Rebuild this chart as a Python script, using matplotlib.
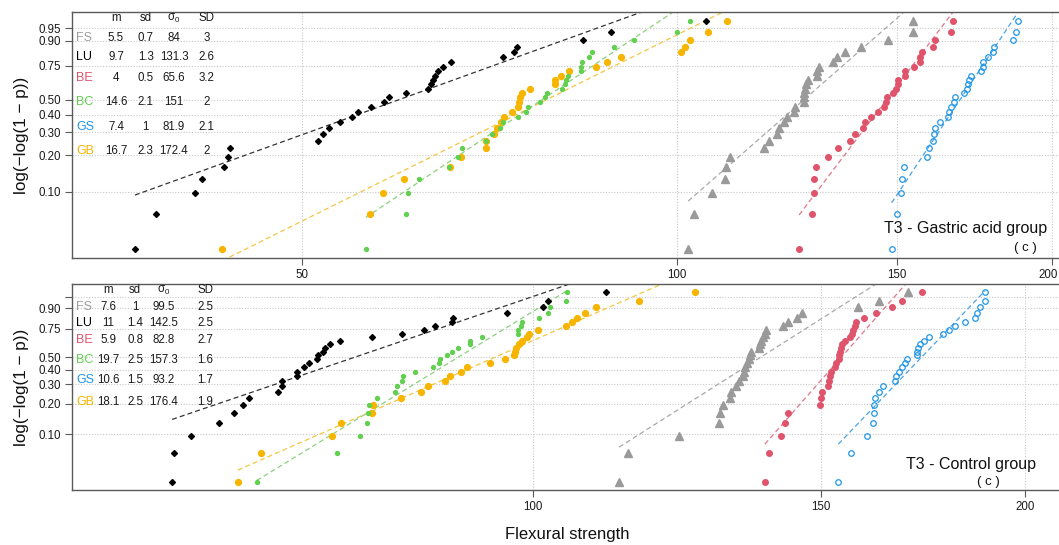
import numpy as np
import matplotlib
matplotlib.use("Agg")
import matplotlib.pyplot as plt
import matplotlib.transforms as mtransforms
from matplotlib.ticker import NullLocator

plt.rcParams['font.family'] = ['Liberation Sans', 'DejaVu Sans']
plt.rcParams['mathtext.fontset'] = 'custom'
plt.rcParams['mathtext.rm'] = 'Liberation Sans'
plt.rcParams['mathtext.it'] = 'Liberation Sans'

W, H = 1059, 545  # figure size in px

###### Data #####
groups = ["FS", "LU", "BE", "BC", "GS", "GB"]
group_colors = ["#9E9E9E", "#000000", "#DF536B", "#61D04F", "#2297E6", "#F7B500"]
headers = ["m", "sd", r"$\sigma_0$", "SD"]

# Weibull parameters printed in each panel
gastric_m = [5.5, 9.7, 4, 14.6, 7.4, 16.7]
gastric_sd = [0.7, 1.3, 0.5, 2.1, 1, 2.3]
gastric_sigma0 = [84, 131.3, 65.6, 151, 81.9, 172.4]
gastric_SD = [3, 2.6, 3.2, 2, 2.1, 2]

control_m = [7.6, 11, 5.9, 19.7, 10.6, 18.1]
control_sd = [1, 1.4, 0.8, 2.5, 1.5, 2.5]
control_sigma0 = [99.5, 142.5, 82.8, 157.3, 93.2, 176.4]
control_SD = [2.5, 2.5, 2.7, 1.6, 1.7, 1.9]

# flexural strength of the 30 specimens per series
gastric_gray = [102.09, 103.25, 106.61, 109.32, 109.40, 110.27, 117.42, 118.50, 120.28, 120.79,
                121.90, 122.57, 124.18, 124.35, 126.35, 126.42, 126.49, 126.58, 126.88, 127.42,
                129.43, 129.50, 130.05, 133.46, 134.30, 136.29, 140.46, 147.70, 154.53, 154.70]
gastric_black = [36.75, 38.21, 41.06, 41.59, 43.32, 43.66, 43.80, 51.56, 52.04, 52.61,
                 53.67, 54.84, 55.51, 56.83, 58.21, 58.78, 60.58, 63.16, 63.45, 63.69,
                 63.96, 64.32, 64.94, 65.84, 72.55, 74.05, 74.38, 84.10, 88.47, 105.43]
gastric_red = [125.31, 128.23, 128.83, 128.90, 129.38, 132.19, 134.67, 137.75, 139.04, 141.10,
               141.62, 143.02, 145.07, 146.60, 147.08, 147.34, 149.09, 149.84, 150.31, 150.45,
               152.34, 152.40, 154.90, 156.54, 156.60, 157.26, 160.49, 161.09, 165.84, 166.37]
gastric_orange = [43.18, 56.72, 58.13, 60.42, 65.70, 67.14, 70.23, 70.31, 71.28, 71.75,
                  72.25, 72.67, 73.70, 74.49, 74.69, 74.90, 75.15, 76.22, 79.83, 79.86,
                  80.76, 81.94, 86.15, 87.81, 90.12, 100.83, 101.53, 102.48, 105.82, 109.65]
gastric_green = [56.30, 60.58, 60.81, 62.06, 65.66, 66.70, 67.19, 70.33, 71.10, 72.12,
                 72.51, 74.49, 75.65, 75.98, 77.65, 78.36, 78.64, 80.86, 81.30, 81.40,
                 81.75, 83.70, 83.80, 83.90, 85.07, 85.50, 88.96, 92.36, 100.09, 102.52]
gastric_blue = [148.65, 150.20, 151.23, 151.42, 151.98, 158.64, 159.32, 160.43, 160.64, 161.18,
                162.61, 165.01, 165.22, 165.84, 166.87, 167.08, 169.87, 170.80, 171.28, 171.60,
                172.02, 175.46, 175.85, 176.10, 177.72, 179.39, 179.66, 186.04, 186.94, 187.77]

control_gray = [112.92, 114.31, 122.87, 129.90, 130.17, 130.66, 131.97, 132.21, 133.11, 133.61,
                134.51, 134.64, 134.83, 135.16, 135.54, 135.79, 136.04, 137.46, 137.71, 137.96,
                138.35, 138.63, 138.88, 142.30, 143.25, 145.08, 146.16, 157.98, 162.90, 169.67]
control_black = [60.18, 60.35, 61.84, 64.32, 65.67, 66.47, 67.07, 69.89, 70.22, 70.28,
                 71.76, 71.80, 72.46, 72.95, 73.77, 73.91, 74.39, 74.64, 75.17, 76.26,
                 79.78, 83.15, 85.86, 87.15, 89.22, 89.42, 96.48, 101.49, 102.10, 110.79]
control_red = [138.65, 139.53, 141.84, 142.69, 143.25, 149.85, 149.96, 150.17, 151.60, 151.83,
               151.98, 152.20, 153.12, 153.34, 153.85, 153.98, 154.13, 154.28, 154.50, 155.22,
               156.33, 156.83, 157.05, 157.43, 157.58, 159.35, 162.15, 165.78, 168.19, 173.06]
control_orange = [66.01, 68.18, 75.41, 76.39, 79.77, 79.80, 83.01, 85.48, 86.25, 88.35,
                  88.94, 90.42, 91.20, 94.14, 96.21, 97.43, 97.57, 97.68, 98.02, 98.52,
                  99.20, 99.48, 100.79, 104.84, 105.73, 106.39, 107.59, 109.28, 116.19, 125.59]
control_green = [67.80, 75.95, 78.41, 79.22, 79.30, 79.40, 80.26, 82.37, 82.55, 83.18,
                 83.33, 84.67, 86.87, 87.64, 87.70, 88.67, 89.26, 90.01, 91.55, 91.60,
                 93.04, 97.91, 97.99, 98.32, 98.46, 100.93, 102.22, 102.39, 104.72, 104.87]
control_blue = [153.77, 156.55, 160.18, 161.47, 161.63, 161.74, 161.93, 162.79, 163.70, 166.43,
                166.78, 167.55, 168.19, 168.83, 169.38, 171.79, 171.86, 172.03, 172.51, 173.41,
                174.72, 178.10, 179.76, 181.31, 183.85, 186.41, 186.99, 187.64, 188.95, 189.10]

prob_ticks = [0.10, 0.20, 0.30, 0.40, 0.50, 0.75, 0.90, 0.95]

# marker style of each point series and the table row its fitted line uses
styles = {
    "gray": dict(marker="^", ms=5.5, color="#9A9A9A", mec="#9A9A9A"),
    "black": dict(marker="D", ms=3.0, color="#000000", mec="#000000"),
    "red": dict(marker="o", ms=4.0, color="#DF536B", mec="#DF536B"),
    "orange": dict(marker="o", ms=4.2, color="#F7B500", mec="#F7B500"),
    "green": dict(marker="o", ms=2.8, color="#61D04F", mec="#61D04F"),
    "blue": dict(marker="o", ms=4.0, mfc="none", mec="#2297E6", mew=0.9),
}
fit_row = {"gray": 1, "black": 2, "red": 3, "orange": 0, "green": 4, "blue": 5}
line_colors = {"gray": "#A8A8A8", "black": "#333333", "red": "#E0788A",
               "orange": "#F6C543", "green": "#8CD07D", "blue": "#4AA2E6"}


def fig_xy(px, py):
    return px / W, 1 - py / H


def wb(p):
    p = np.asarray(p, dtype=float)
    return np.log(-np.log(1 - p))


panels = [
    dict(top=12.3, bottom=258, xlim=(32.72, 211.65), xticks=[50, 100, 150, 200],
         series={"gray": gastric_gray, "black": gastric_black, "red": gastric_red,
                 "orange": gastric_orange, "green": gastric_green, "blue": gastric_blue},
         table=(gastric_m, gastric_sd, gastric_sigma0, gastric_SD),
         head_y=18.3, cols=[116, 145.7, 174, 206.7],
         rows=[37.7, 57.3, 77.7, 101.7, 126.7, 151.3],
         title="T3 - Gastric acid group", title_xy=(884, 228.5), c_xy=(1025, 248),
         label_95=True, nudge_last=True),
    dict(top=284, bottom=490, xlim=(52.27, 217.0), xticks=[100, 150, 200],
         series={"gray": control_gray, "black": control_black, "red": control_red,
                 "orange": control_orange, "green": control_green, "blue": control_blue},
         table=(control_m, control_sd, control_sigma0, control_SD),
         head_y=290, cols=[108, 135, 164, 205],
         rows=[306.7, 322.7, 340, 360, 380, 401.7],
         title="T3 - Control group", title_xy=(906, 465), c_xy=(988.3, 482.5),
         label_95=False, nudge_last=False),
]

fig = plt.figure(figsize=(W / 100, H / 100), dpi=100)
frame_col = "#5A5A5A"

for pan in panels:
    left, right = 72, 1083
    ax = fig.add_axes([left / W, 1 - pan["bottom"] / H, (right - left) / W,
                       (pan["bottom"] - pan["top"]) / H])
    ax.set_xscale("log")
    ax.set_xlim(*pan["xlim"])
    ax.set_ylim(-3.604, 1.420)

    # grid
    for xv in pan["xticks"]:
        ax.axvline(xv, color="#C8C8C8", lw=0.8, ls=(0, (1, 1.5)), zorder=0)
    for p in prob_ticks:
        ax.axhline(wb(p), color="#C8C8C8", lw=0.8, ls=(0, (1, 1.5)), zorder=0)

    m_vals, sd_vals, s0_vals, SD_vals = pan["table"]
    for name, vals in pan["series"].items():
        x = np.sort(np.asarray(vals))
        n = len(x)
        ranks = np.arange(1, n + 1)
        y = wb(ranks / (n + 1))
        # fitted Weibull line from table parameters
        k = fit_row[name]
        xl = np.array([x.min(), x.max()])
        yl = m_vals[k] * np.log(xl / s0_vals[k])
        ax.plot(xl, yl, color=line_colors[name], lw=0.9, dashes=(4, 2.5), zorder=2)
        ax.plot(x, y, ls="none", zorder=3, **styles[name])

    ax.xaxis.set_minor_locator(NullLocator())
    ax.set_xticks(pan["xticks"])
    ax.set_xticklabels([str(t) for t in pan["xticks"]])
    ax.set_yticks(wb(prob_ticks))
    ylabels = ["%.2f" % p for p in prob_ticks]
    if not pan["label_95"]:
        ylabels[-1] = ""
    ax.set_yticklabels(ylabels)
    ax.tick_params(direction="out", length=5, width=0.8, color=frame_col,
                   labelsize=8.3, labelcolor="#1A1A1A", pad=3)
    for side in ["top", "bottom", "left"]:
        ax.spines[side].set_color(frame_col)
        ax.spines[side].set_linewidth(1.0)
    ax.spines["right"].set_visible(False)

    # keep the last x label ("200") inside the figure edge
    if pan["nudge_last"]:
        last = ax.get_xticklabels()[-1]
        last.set_transform(last.get_transform() +
                           mtransforms.ScaledTranslation(-4 / 100, 0, fig.dpi_scale_trans))

    # parameter table
    for j, h in enumerate(headers):
        fig.text(*fig_xy(pan["cols"][j], pan["head_y"]), h, ha="center", va="center",
                 fontsize=8.3, color="#1A1A1A")
    for i, g in enumerate(groups):
        fig.text(*fig_xy(76, pan["rows"][i]), g, ha="left", va="center",
                 fontsize=9, color=group_colors[i])
        for j, col in enumerate((m_vals, sd_vals, s0_vals, SD_vals)):
            fig.text(*fig_xy(pan["cols"][j], pan["rows"][i]), f"{col[i]:g}",
                     ha="center", va="center", fontsize=8.3, color="#1A1A1A")

    fig.text(*fig_xy(*pan["title_xy"]), pan["title"], ha="left", va="center",
             fontsize=11.5, color="#111111")
    fig.text(*fig_xy(*pan["c_xy"]), "( c )", ha="center", va="center",
             fontsize=9.5, color="#111111")
    fig.text(*fig_xy(22, (pan["top"] + pan["bottom"]) / 2), "log(\u2212log(1 \u2212 p))",
             rotation=90, ha="center", va="center", fontsize=12.3, color="#111111")

fig.text(*fig_xy(567, 535), "Flexural strength", ha="center", va="center",
         fontsize=12, color="#111111")

fig.savefig("out.png", dpi=100)
